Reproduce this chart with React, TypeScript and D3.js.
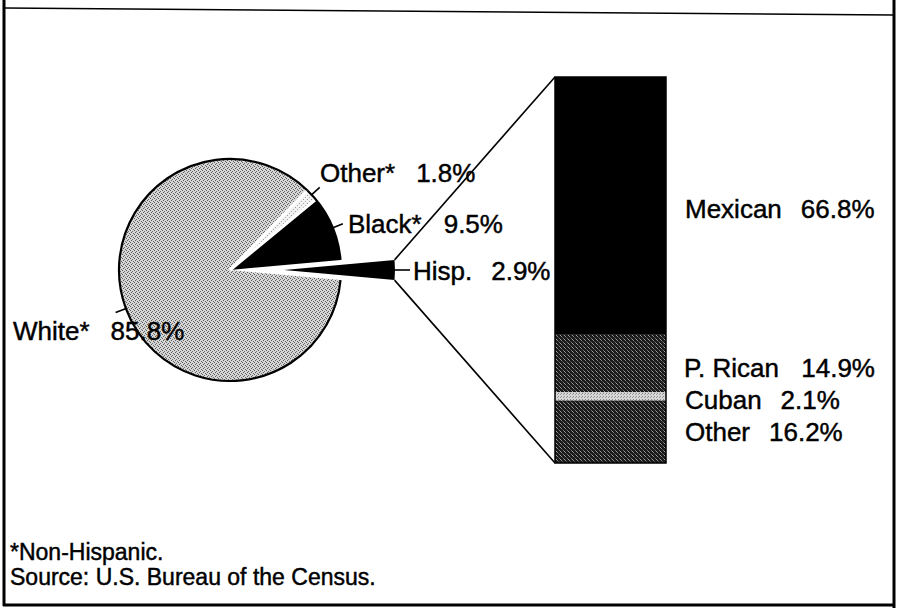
import React from "react";
import * as d3 from "d3";

// ---- data ----
const groups = ["Other*", "Black*", "Hisp.", "White*"];
const groupValues = [1.8, 9.5, 2.9, 85.8];
const hispGroups = ["Mexican", "P. Rican", "Cuban", "Other"];
const hispValues = [66.8, 14.9, 2.1, 16.2];
const footnotes = ["*Non-Hispanic.", "Source: U.S. Bureau of the Census."];

const W = 899;
const H = 608;
const FONT = "'Liberation Sans', Arial, Helvetica, sans-serif";
const fmt = (v: number) => d3.format(".1f")(v) + "%";

export default function App() {
  const cx = 230;
  const cy = 270;
  const r = 111;
  const explode = 54;
  const hispIdx = 2;

  const total = d3.sum(groupValues);
  const a0 =
    Math.PI / 2 -
    (2 * Math.PI * (groupValues[2] / 2 + groupValues[1] + groupValues[0])) / total;
  const pie = d3
    .pie<number>()
    .sort(null)
    .value((d) => d)
    .startAngle(a0)
    .endAngle(a0 + 2 * Math.PI);
  const arcs = pie(groupValues);
  const arcGen = d3.arc<d3.PieArcDatum<number>>().innerRadius(0).outerRadius(r);

  const fills = ["url(#lightPat)", "#000", "#000", "url(#greyPat)"];

  const hisp = arcs[hispIdx];
  const hMid = (hisp.startAngle + hisp.endAngle) / 2;
  const hx = cx + explode * Math.sin(hMid);
  const hy = cy - explode * Math.cos(hMid);
  const hTop: [number, number] = [hx + r * Math.sin(hisp.startAngle), hy - r * Math.cos(hisp.startAngle)];
  const hBot: [number, number] = [hx + r * Math.sin(hisp.endAngle), hy - r * Math.cos(hisp.endAngle)];

  // bar
  const barX0 = 555;
  const barX1 = 666;
  const y = d3.scaleLinear().domain([0, d3.sum(hispValues)]).range([77, 463]);
  const cum = Array.from(d3.cumsum(hispValues));
  const barFills = ["#000", "url(#darkPat)", "url(#cubanPat)", "url(#darkPat)"];

  // label layout (positions only)
  const pieLabelPos: [number, number][] = [
    [320, 182],
    [348, 233],
    [413, 280],
    [13, 340],
  ];
  const gaps = [21, 22, 19, 21];
  const barLabelPos: [number, number][] = [
    [685, 218],
    [684, 377],
    [685, 409],
    [685, 441],
  ];

  const outerArc = (s: number, e: number) => {
    const p = d3.path();
    p.arc(cx, cy, r, s - Math.PI / 2, e - Math.PI / 2);
    return p.toString();
  };

  const tick = (i: number) => {
    const a = arcs[i];
    const m = (a.startAngle + a.endAngle) / 2;
    const ox = i === hispIdx ? hx : cx;
    const oy = i === hispIdx ? hy : cy;
    const r2 = i === hispIdx ? r + 15 : r + 11;
    return {
      x1: ox + (r - 1) * Math.sin(m),
      y1: oy - (r - 1) * Math.cos(m),
      x2: ox + r2 * Math.sin(m),
      y2: oy - r2 * Math.cos(m),
    };
  };

  const measure = (t: string, size: number) => {
    const widths: Record<string, number> = {
      M: 0.833, e: 0.556, x: 0.5, i: 0.222, c: 0.5, a: 0.556, n: 0.556, P: 0.667, ".": 0.278,
      " ": 0.278, R: 0.722, C: 0.722, u: 0.556, b: 0.556, O: 0.778, t: 0.278, h: 0.556, r: 0.333,
      "*": 0.389, B: 0.667, l: 0.222, k: 0.5, H: 0.722, s: 0.5, p: 0.556, W: 0.944,
    };
    let w = 0;
    for (const ch of t) w += widths[ch] ?? 0.556;
    return w * size;
  };

  const fs = 26;
  const textStyle = { fill: "#000", stroke: "#000", strokeWidth: 0.45 };

  return (
    <svg
      width={W}
      height={H}
      viewBox={`0 0 ${W} ${H}`}
      style={{ position: "absolute", left: 0, top: 0, background: "#fff" }}
      fontFamily={FONT}
    >
      <defs>
        <pattern id="greyPat" width={4} height={4} patternUnits="userSpaceOnUse">
          <rect width={4} height={4} fill="#d6d6d6" />
          <rect x={0} y={0} width={1} height={1} fill="#5a5a5a" />
          <rect x={2} y={1} width={1} height={1} fill="#6a6a6a" />
          <rect x={1} y={2} width={1} height={1} fill="#5a5a5a" />
          <rect x={3} y={3} width={1} height={1} fill="#6a6a6a" />
        </pattern>
        <pattern id="lightPat" width={4} height={4} patternUnits="userSpaceOnUse">
          <rect width={4} height={4} fill="#f2f2f2" />
          <rect x={1} y={1} width={1} height={1} fill="#9a9a9a" />
          <rect x={3} y={3} width={1} height={1} fill="#aaaaaa" />
        </pattern>
        <pattern id="darkPat" width={4} height={4} patternUnits="userSpaceOnUse">
          <rect width={4} height={4} fill="#1a1a1a" />
          <rect x={1} y={0} width={1} height={1} fill="#8a8a8a" />
          <rect x={3} y={2} width={1} height={1} fill="#7a7a7a" />
          <rect x={0} y={3} width={1} height={1} fill="#a0a0a0" />
          <rect x={2} y={1} width={1} height={1} fill="#4a4a4a" />
        </pattern>
        <pattern id="cubanPat" width={3} height={3} patternUnits="userSpaceOnUse">
          <rect width={3} height={3} fill="#d8d8d8" />
          <rect x={0} y={0} width={1} height={1} fill="#888" />
          <rect x={2} y={1} width={1} height={1} fill="#999" />
        </pattern>
      </defs>

      {/* frame */}
      <line x1={4} y1={0} x2={4} y2={606} stroke="#000" strokeWidth={3} />
      <line x1={894} y1={0} x2={894} y2={608} stroke="#000" strokeWidth={3} />
      <line x1={3} y1={605} x2={895} y2={605} stroke="#000" strokeWidth={3} />
      <line x1={5} y1={8} x2={893} y2={15} stroke="#000" strokeWidth={1.6} />

      {/* pie slices */}
      {arcs.map((a, i) => {
        if (i === hispIdx) return null;
        return <path key={i} d={arcGen(a) || ""} transform={`translate(${cx},${cy})`} fill={fills[i]} />;
      })}
      {/* white separators around Other* */}
      {[arcs[0].startAngle, arcs[0].endAngle].map((ang, i) => (
        <line
          key={i}
          x1={cx}
          y1={cy}
          x2={cx + (r + 1) * Math.sin(ang)}
          y2={cy - (r + 1) * Math.cos(ang)}
          stroke="#fff"
          strokeWidth={3}
        />
      ))}
      {/* outer outline */}
      <path d={outerArc(arcs[0].startAngle, arcs[1].endAngle)} fill="none" stroke="#000" strokeWidth={2.2} />
      <path d={outerArc(arcs[3].startAngle, arcs[3].endAngle)} fill="none" stroke="#000" strokeWidth={2.2} />

      {/* exploded Hispanic slice */}
      <path d={arcGen(hisp) || ""} transform={`translate(${hx},${hy})`} fill="#000" />

      {/* connector lines */}
      <line x1={hTop[0]} y1={hTop[1]} x2={barX0} y2={y(0)} stroke="#000" strokeWidth={1.6} />
      <line x1={hBot[0]} y1={hBot[1]} x2={barX0} y2={y(d3.sum(hispValues))} stroke="#000" strokeWidth={1.6} />

      {/* leader ticks */}
      {arcs.map((_, i) => {
        const t = tick(i);
        return <line key={i} {...t} stroke="#000" strokeWidth={1.6} />;
      })}

      {/* pie labels */}
      {groups.map((g, i) => (
        <text key={g} x={pieLabelPos[i][0]} y={pieLabelPos[i][1]} fontSize={fs} {...textStyle}>
          <tspan>{g}</tspan>
          <tspan x={pieLabelPos[i][0] + measure(g, fs) + gaps[i]}>{fmt(groupValues[i])}</tspan>
        </text>
      ))}

      {/* stacked bar */}
      {hispValues.map((v, i) => {
        const top = y(cum[i] - v);
        const bot = y(cum[i]);
        return <rect key={i} x={barX0} y={top} width={barX1 - barX0} height={bot - top} fill={barFills[i]} />;
      })}
      <rect
        x={barX0}
        y={y(0)}
        width={barX1 - barX0}
        height={y(d3.sum(hispValues)) - y(0)}
        fill="none"
        stroke="#000"
        strokeWidth={1.5}
      />

      {/* bar labels */}
      {hispGroups.map((g, i) => (
        <text key={g} x={barLabelPos[i][0]} y={barLabelPos[i][1]} fontSize={fs} {...textStyle}>
          <tspan>{g}</tspan>
          <tspan x={barLabelPos[i][0] + measure(g, fs) + 19}>{fmt(hispValues[i])}</tspan>
        </text>
      ))}

      {/* footnotes */}
      {footnotes.map((f, i) => (
        <text key={f} x={10} y={560 + i * 25} fontSize={23} {...textStyle}>
          {f}
        </text>
      ))}
    </svg>
  );
}
